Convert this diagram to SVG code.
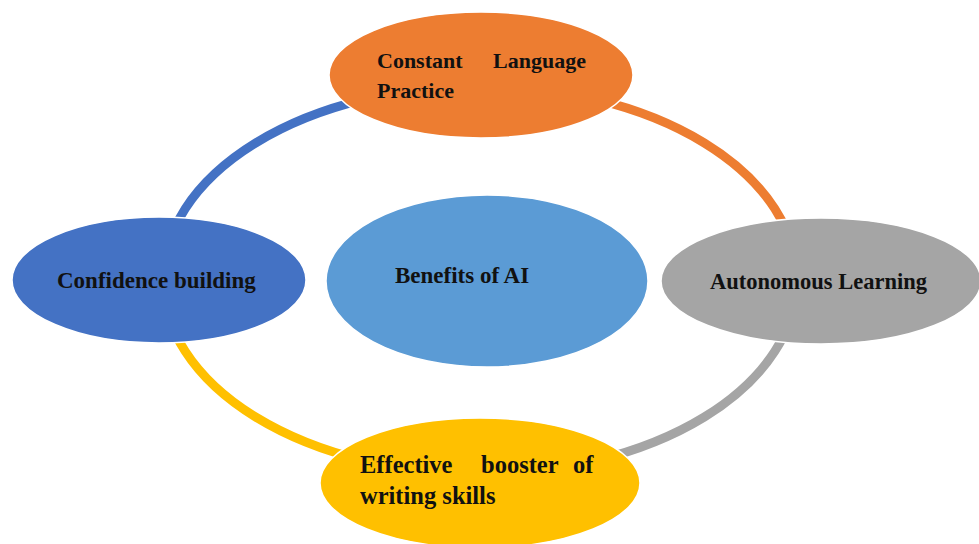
<svg xmlns="http://www.w3.org/2000/svg" width="979" height="544" viewBox="0 0 979 544">
  <style>
    .ring { fill: none; stroke-width: 9; }
    .node { stroke: #ffffff; stroke-width: 1.5; }
    .label { font-family: "Liberation Serif", "Times New Roman", serif; font-weight: bold; fill: #111111; }
  </style>
  <rect width="979" height="544" fill="#ffffff"/>

  <!-- ring segments joining the outer nodes -->
  <g id="connectors">
    <path class="ring" stroke="#4472C4" d="M163,280 A317,194 0 0 1 480,86"/>
    <path class="ring" stroke="#ED7D31" d="M480,86 A317,194 0 0 1 797,280"/>
    <path class="ring" stroke="#A5A5A5" d="M797,280 A317,194 0 0 1 480,474"/>
    <path class="ring" stroke="#FFC000" d="M480,474 A317,194 0 0 1 163,280"/>
  </g>

  <g id="node-practice">
    <ellipse class="node" cx="481" cy="75" rx="152" ry="63" fill="#ED7D31"/>
    <text class="label" font-size="22">
      <tspan x="377" y="68">Constant</tspan>
      <tspan x="493" y="68">Language</tspan>
      <tspan x="377" y="98">Practice</tspan>
    </text>
  </g>

  <g id="node-confidence">
    <ellipse class="node" cx="159" cy="280" rx="147" ry="63" fill="#4472C4"/>
    <text class="label" font-size="23" x="57" y="288">Confidence building</text>
  </g>

  <g id="node-autonomous">
    <ellipse class="node" cx="821" cy="281" rx="160" ry="63" fill="#A5A5A5"/>
    <text class="label" font-size="22.5" x="710" y="289">Autonomous Learning</text>
  </g>

  <g id="node-writing">
    <ellipse class="node" cx="480" cy="483" rx="160" ry="65" fill="#FFC000"/>
    <text class="label" font-size="24.5">
      <tspan x="360" y="473">Effective</tspan>
      <tspan x="481" y="473">booster</tspan>
      <tspan x="573" y="473">of</tspan>
      <tspan x="360" y="504">writing skills</tspan>
    </text>
  </g>

  <g id="node-benefits">
    <ellipse class="node" cx="487" cy="281" rx="161" ry="86" fill="#5B9BD5"/>
    <text class="label" font-size="23" x="395" y="283">Benefits of AI</text>
  </g>
</svg>
